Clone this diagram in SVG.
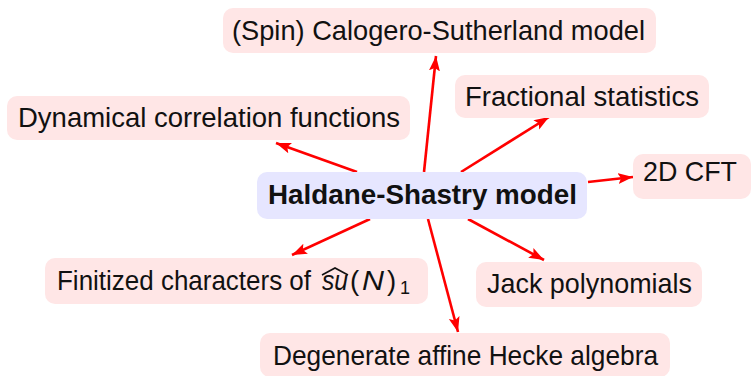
<svg xmlns="http://www.w3.org/2000/svg" width="752" height="376" viewBox="0 0 752 376">
<defs>
<style>
.box{fill:#ffe6e6;}
.hub{fill:#e6e6ff;}
.t{font-family:"Liberation Sans","DejaVu Sans",sans-serif;font-size:27.5px;fill:#111;}
.b{font-weight:bold;}
.i{font-style:italic;}
.e{stroke:#ff0000;stroke-width:2.6;fill:none;marker-end:url(#ah);}
</style>
<marker id="ah" markerUnits="userSpaceOnUse" markerWidth="16" markerHeight="12" refX="15" refY="6" orient="auto">
<path d="M0,0.5 L15,6 L0,11.5 L3,6 Z" fill="#ff0000"/>
</marker>
</defs>
<rect width="752" height="376" fill="#ffffff"/>
<g id="connectors">
<line class="e" x1="424" y1="172" x2="436" y2="56"/>
<line class="e" x1="357" y1="172" x2="276" y2="143"/>
<line class="e" x1="461" y1="172" x2="549" y2="117"/>
<line class="e" x1="588" y1="182" x2="633" y2="177"/>
<line class="e" x1="468" y1="219" x2="544" y2="260"/>
<line class="e" x1="370" y1="219" x2="292" y2="255"/>
<line class="e" x1="428" y1="219" x2="458" y2="332"/>
</g>
<g id="hub">
<rect class="hub" x="257" y="172" width="330" height="47" rx="10"/>
<text class="t b" x="268" y="204" textLength="309" lengthAdjust="spacingAndGlyphs">Haldane-Shastry model</text>
</g>
<g id="calogero">
<rect class="box" x="223" y="8" width="433" height="45" rx="10"/>
<text class="t" x="232" y="39.5" textLength="413" lengthAdjust="spacingAndGlyphs">(Spin) Calogero-Sutherland model</text>
</g>
<g id="dynamical">
<rect class="box" x="7" y="96" width="403" height="44" rx="10"/>
<text class="t" x="18" y="126.5" textLength="382" lengthAdjust="spacingAndGlyphs">Dynamical correlation functions</text>
</g>
<g id="fractional">
<rect class="box" x="455" y="75" width="254" height="43" rx="10"/>
<text class="t" x="465" y="105.5" textLength="234" lengthAdjust="spacingAndGlyphs">Fractional statistics</text>
</g>
<g id="cft">
<rect class="box" x="633" y="154" width="118" height="45" rx="10"/>
<text class="t" x="643" y="181" textLength="94" lengthAdjust="spacingAndGlyphs">2D CFT</text>
</g>
<g id="finitized">
<rect class="box" x="45" y="258" width="383" height="46" rx="10"/>
<text class="t" y="289.5"><tspan x="57" textLength="254" lengthAdjust="spacingAndGlyphs">Finitized characters of</tspan><tspan class="i" x="322" textLength="26" lengthAdjust="spacingAndGlyphs">su</tspan><tspan x="350">(</tspan><tspan class="i" x="362" textLength="22" lengthAdjust="spacingAndGlyphs">N</tspan><tspan x="387">)</tspan><tspan font-size="18" x="400" y="294">1</tspan></text>
<polyline points="322,275 335,268 348,275" fill="none" stroke="#111" stroke-width="1.6"/>
</g>
<g id="jack">
<rect class="box" x="476" y="262" width="226" height="45" rx="10"/>
<text class="t" x="487" y="292.5" textLength="205" lengthAdjust="spacingAndGlyphs">Jack polynomials</text>
</g>
<g id="degenerate">
<rect class="box" x="260" y="333" width="410" height="44" rx="10"/>
<text class="t" x="273" y="364.5" textLength="385" lengthAdjust="spacingAndGlyphs">Degenerate affine Hecke algebra</text>
</g>
</svg>
